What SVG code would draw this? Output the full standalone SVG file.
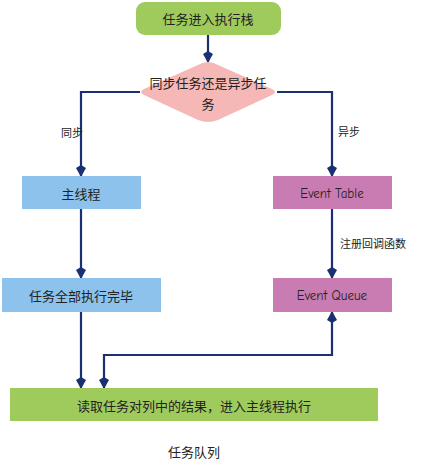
<svg xmlns="http://www.w3.org/2000/svg" width="421" height="466" viewBox="0 0 421 466">
<style>
.t{font-family:"Noto Sans CJK SC","Liberation Sans",sans-serif;font-size:13px;fill:#222;text-anchor:middle;dominant-baseline:central}
.s{font-size:11px}
.e{font-family:"Comic Neue","Liberation Sans","Noto Sans CJK SC",sans-serif;font-size:13px}
.c{fill:none;stroke:#1b2f73;stroke-width:2.2}
.green{fill:#9fcb5d}
.blue{fill:#8cc2ec}
.pink{fill:#c97cb1}
</style>
<defs>
<marker id="ah" viewBox="0 0 12 10" refX="11" refY="5" markerWidth="12" markerHeight="10" markerUnits="userSpaceOnUse" orient="auto-start-reverse">
<path d="M0,5 L3,0 L12,5 L3,10 Z" fill="#1b2f73"/>
</marker>
</defs>
<rect width="421" height="466" fill="#fff"/>
<g id="connectors">
<path class="c" d="M208,35 V62" marker-end="url(#ah)"/>
<path class="c" d="M140,92 H81 V176" marker-end="url(#ah)"/>
<path class="c" d="M277,92 H332 V176" marker-end="url(#ah)"/>
<path class="c" d="M81,209 V278" marker-end="url(#ah)"/>
<path class="c" d="M332,209 V278" marker-end="url(#ah)"/>
<path class="c" d="M81,312 V388" marker-end="url(#ah)"/>
<path class="c" d="M104,388 V355 H332 V312" marker-start="url(#ah)" marker-end="url(#ah)"/>
<text class="t s" x="72" y="132">同步</text>
<text class="t s" x="349" y="131">异步</text>
<text class="t s" x="373" y="243">注册回调函数</text>
</g>
<g id="start">
<rect class="green" x="136" y="2" width="145" height="33" rx="9"/>
<text class="t" x="208" y="18">任务进入执行栈</text>
</g>
<g id="decision">
<path d="M208,62 Q213,62 218,65 L272,89 Q278,92 272,95 L218,120 Q208,124 198,120 L144,95 Q138,92 144,89 L198,65 Q203,62 208,62 Z" fill="#f5b8b6"/>
<text class="t" x="208" y="82">同步任务还是异步任</text>
<text class="t" x="208" y="103">务</text>
</g>
<g id="main-thread">
<rect class="blue" x="22" y="176" width="119" height="33"/>
<text class="t" x="81" y="193">主线程</text>
</g>
<g id="event-table">
<rect class="pink" x="273" y="176" width="119" height="33"/>
<text class="t e" x="332" y="193">Event Table</text>
</g>
<g id="all-done">
<rect class="blue" x="2" y="278" width="159" height="34"/>
<text class="t" x="81" y="295">任务全部执行完毕</text>
</g>
<g id="event-queue">
<rect class="pink" x="273" y="278" width="119" height="34"/>
<text class="t e" x="332" y="295">Event Queue</text>
</g>
<g id="read-queue">
<rect class="green" x="10" y="388" width="368" height="33"/>
<text class="t" x="194" y="405">读取任务对列中的结果，进入主线程执行</text>
</g>
<g id="caption">
<text class="t" x="194" y="451">任务队列</text>
</g>
</svg>
